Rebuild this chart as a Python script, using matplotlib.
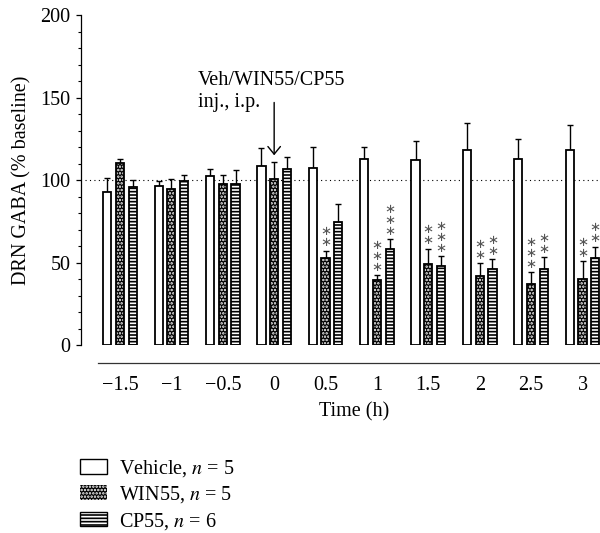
import numpy as np
import matplotlib
matplotlib.use('Agg')
import matplotlib.pyplot as plt
from matplotlib.patches import Patch

plt.rcParams['font.family'] = ['Liberation Serif', 'DejaVu Serif']
plt.rcParams['mathtext.fontset'] = 'stix'
plt.rcParams['hatch.linewidth'] = 1.2

# data (% of baseline, mean and upward SEM)
times = ['\u22121.5', '\u22121', '\u22120.5', '0', '0.5', '1', '1.5', '2', '2.5', '3']
veh = [92.5, 96.4, 102.6, 108.7, 107.5, 112.7, 112.3, 118.0, 112.7, 118.2]
veh_err = [8.9, 3.2, 4.1, 10.7, 12.7, 7.1, 11.5, 16.7, 12.1, 15.1]
win = [110.5, 94.3, 97.4, 100.8, 52.9, 39.4, 49.1, 42.0, 36.8, 39.8]
win_err = [2.5, 6.5, 5.6, 10.3, 4.3, 2.8, 9.3, 7.7, 7.2, 10.9]
cp = [95.5, 99.6, 97.8, 106.9, 74.5, 58.2, 47.7, 45.9, 46.3, 52.9]
cp_err = [4.7, 3.4, 8.0, 7.0, 11.0, 5.8, 6.2, 6.0, 6.8, 6.7]
win_stars = [0, 0, 0, 0, 2, 3, 2, 2, 3, 2]
cp_stars = [0, 0, 0, 0, 0, 3, 3, 2, 2, 2]
labels = ['Vehicle, $n$ = 5', 'WIN55, $n$ = 5', 'CP55, $n$ = 6']

FS = 14.5

fig = plt.figure(figsize=(6, 5.33), dpi=100)
ax = fig.add_axes([0.1633, 0.3527, 0.8367, 0.6191])

x = np.arange(len(times))
off = 0.248
w = 0.16
lw = 1.3

def draw_bars(xs, vals, errs, face, hatch, hcol):
    # fill + hatch first, then the black outline on top
    ax.bar(xs, vals, w, color=face, edgecolor=hcol, hatch=hatch, linewidth=0, zorder=2)
    ax.bar(xs, vals, w, facecolor='none', edgecolor='black', linewidth=lw, zorder=3)
    ax.errorbar(xs, vals, yerr=[np.zeros(len(vals)), errs], fmt='none', ecolor='black',
                elinewidth=1.0, capsize=2.2, capthick=1.0, zorder=1)

draw_bars(x - off, veh, veh_err, 'white', None, 'white')
draw_bars(x, win, win_err, 'black', '.....', 'white')
draw_bars(x + off, cp, cp_err, 'white', '-----', 'black')

def stars(xs, vals, errs, counts):
    for xi, v, e, n in zip(xs, vals, errs, counts):
        if n == 0:
            continue
        ax.annotate('\n'.join(['\u2217'] * n), xy=(xi, v + e), xytext=(0, 1),
                    textcoords='offset points', ha='center', va='bottom',
                    fontsize=9.5, linespacing=0.8, color='#555555', family='DejaVu Sans')

stars(x, win, win_err, win_stars)
stars(x + off, cp, cp_err, cp_stars)

ax.axhline(100, xmin=-0.025, xmax=1, color='black', lw=0.8, ls=(0, (1, 3)),
           clip_on=False, zorder=0)

ax.annotate('', xy=(3, 115), xytext=(3, 147),
            arrowprops=dict(arrowstyle='->,head_length=0.55,head_width=0.45',
                            color='black', lw=1.0, shrinkA=0, shrinkB=0,
                            mutation_scale=10))
ax.text(1.52, 160.6, 'Veh/WIN55/CP55', ha='left', va='center', fontsize=FS)
ax.text(1.52, 146.7, 'inj., i.p.', ha='left', va='center', fontsize=FS)

ax.set_xlim(-0.428, 9.34)
ax.set_ylim(0, 200)
ax.set_yticks(np.arange(0, 201, 50))
ax.set_yticks(np.arange(0, 201, 10), minor=True)
ax.set_xticks(x)
ax.set_xticklabels(times)
ax.tick_params(axis='x', length=0, pad=9.5, labelsize=FS)
ax.tick_params(axis='y', which='major', length=3.6, width=0.9, pad=4, labelsize=FS)
ax.tick_params(axis='y', which='minor', length=2, width=0.8)

for s in ['top', 'right']:
    ax.spines[s].set_visible(False)
ax.spines['left'].set_position(('outward', 12.2))
ax.spines['bottom'].set_position(('outward', 13))
ax.spines['left'].set_linewidth(0.9)
ax.spines['bottom'].set_linewidth(0.9)
ax.spines['bottom'].set_color('#333333')

ax.set_ylabel('DRN GABA (% baseline)', fontsize=FS)
ax.yaxis.label.set_va('center')
ax.yaxis.set_label_coords(-0.151, 0.5)
ax.set_xlabel('Time (h)', fontsize=FS)
ax.xaxis.label.set_va('center')
ax.xaxis.set_label_coords(0.51, -0.203)

handles = [Patch(facecolor='white', edgecolor='black', linewidth=1.0),
           Patch(facecolor='black', edgecolor='white', hatch='.....', linewidth=0),
           Patch(facecolor='white', edgecolor='black', hatch='-----', linewidth=1.0)]
fig.legend(handles, labels, loc='upper left', bbox_to_anchor=(80 / 600, 1 - 458 / 533),
           frameon=False, fontsize=FS, handlelength=1.34, handleheight=0.74,
           handletextpad=0.6, labelspacing=0.27, borderpad=0, borderaxespad=0)

fig.savefig('out.png', dpi=100)
